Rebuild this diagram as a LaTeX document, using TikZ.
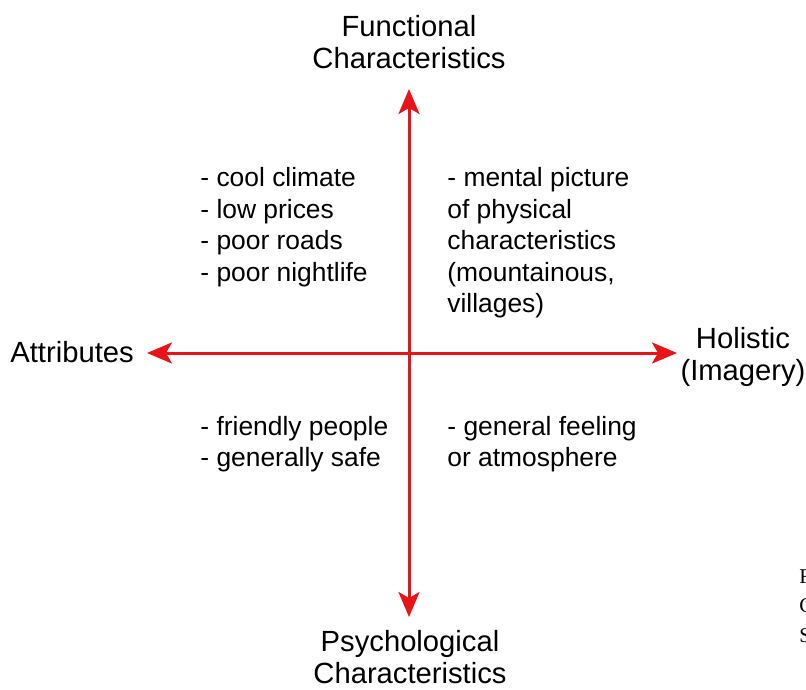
\documentclass[tikz,border=0pt]{standalone}
\usepackage{fontspec}
\setmainfont{Liberation Sans}
\newfontfamily\legendefont{Liberation Serif}
\usetikzlibrary{arrows.meta}

\definecolor{rougeaxe}{RGB}{232,20,24}

\tikzset{
	axe/.style={rougeaxe, line width=1.5pt, {Stealth[length=12.5pt, width=10.5pt, inset=3pt]}-{Stealth[length=12.5pt, width=10.5pt, inset=3pt]}},
	titre/.style={align=center, inner sep=0pt, font=\fontsize{14.6}{16.4}\selectfont},
	liste/.style={align=left, inner sep=0pt, anchor=west, font=\fontsize{13.2}{15.75}\selectfont}
}

\begin{document}
\begin{tikzpicture}[x=0.5pt, y=-0.5pt]
		\useasboundingbox (0,0) rectangle (806,689);

		% Extrémités des axes
		\coordinate (haut) at (409,89);
		\coordinate (bas) at (409,617);
		\coordinate (gauche) at (147,353);
		\coordinate (droite) at (677,353);

		% Axes
		\draw[axe] (haut) -- (bas);
		\draw[axe] (gauche) -- (droite);

		% Titres des axes
		\node[titre] (fonctionnel) at (409,42) {Functional\\Characteristics};
		\node[titre] (psycho) at (410,657) {Psychological\\Characteristics};
		\node[titre, anchor=west] (attributs) at (10,352) {Attributes};
		\node[titre] (holistique) at (743,357) {Holistic\\(Imagery)};

		% Quadrants
		\node[liste] (hautgauche) at (200,227) {- cool climate\\- low prices\\- poor roads\\- poor nightlife};
		\node[liste] (hautdroite) at (447,243) {- mental picture\\of physical\\characteristics\\(mountainous,\\villages)};
		\node[liste] (basgauche) at (200,444) {- friendly people\\- generally safe};
		\node[liste] (basdroite) at (447,444) {- general feeling\\or atmosphere};

		% Légende coupée au bord
		\node[align=left, inner sep=0pt, anchor=north west, font=\legendefont\fontsize{10.5}{14.8}\selectfont] (legende) at (799,569) {F\\C\\S};
	\end{tikzpicture}
\end{document}
